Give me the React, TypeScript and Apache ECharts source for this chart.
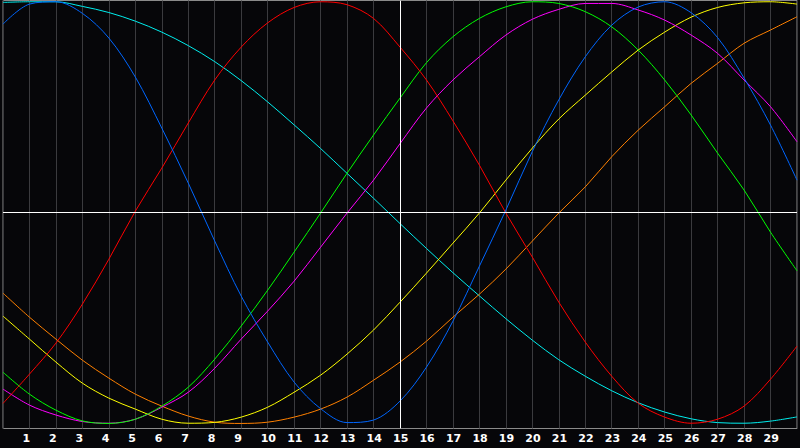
import React, { useEffect, useRef } from "react";
import * as echarts from "echarts";

// Days shown on the x axis (0..30) and tick labels
const days = [0, 1, 2, 3, 4, 5, 6, 7, 8, 9, 10, 11, 12, 13, 14, 15, 16, 17, 18, 19, 20, 21, 22, 23, 24, 25, 26, 27, 28, 29, 30];
const dayLabels = ["1", "2", "3", "4", "5", "6", "7", "8", "9", "10", "11", "12", "13", "14", "15", "16", "17", "18", "19", "20", "21", "22", "23", "24", "25", "26", "27", "28", "29"];

// Cycle values (percent), one per day
const physical = [89.4, 98.9, 100, 94.5, 82.8, 64.3, 40.1, 14.0, -13.5, -39.6, -61.4, -80.4, -93.0, -99.6, -98.4, -89.4, -73.3, -51.5, -25.4, 1.2, 29.0, 53.5, 73.9, 88.9, 97.5, 100, 94.8, 83.0, 63.8, 41.5, 15.4];
const emotional = [-90.5, -76.6, -61.9, -43.4, -22.1, 0.7, 21.1, 42.5, 62.9, 78.5, 90.0, 97.3, 100, 98.6, 92.1, 78.5, 62.9, 43.5, 22.5, -0.2, -21.1, -42.5, -61.4, -77.6, -90.4, -97.0, -99.9, -98.0, -91.8, -79.0, -63.3];
const intellectual = [-75.7, -86.1, -93.7, -98.8, -100, -98.0, -91.8, -82.8, -69.5, -53.8, -36.8, -18.7, -0.2, 18.7, 36.8, 54.3, 71.1, 83.4, 92.1, 97.6, 100, 99.2, 95.3, 88.1, 77.1, 62.9, 46.3, 28.2, 10.7, -9.3, -27.6];
const intuitive = [-83.7, -91.3, -96.0, -99.1, -99.9, -98.0, -92.3, -85.2, -73.8, -60.0, -46.7, -32.5, -16.4, -0.2, 15.4, 32.7, 49.6, 62.9, 73.9, 84.2, 91.7, 96.4, 99.2, 99.2, 96.1, 91.3, 84.2, 75.5, 62.9, 50.2, 33.6];
const aesthetic = [-49.1, -60.0, -70.9, -80.9, -88.0, -93.2, -98.0, -99.9, -99.5, -97.0, -92.3, -85.2, -77.1, -67.1, -55.7, -42.5, -28.7, -14.5, -0.2, 15.4, 30.6, 44.4, 55.7, 66.7, 77.1, 85.6, 92.7, 97.3, 99.5, 100, 98.9];
const awareness = [-38.2, -49.6, -60.0, -70.0, -78.5, -86.1, -91.8, -96.5, -99.4, -100, -99.4, -97.0, -93.2, -87.5, -79.5, -70.9, -61.0, -49.6, -38.7, -26.8, -13.5, -0.2, 12.2, 26.5, 39.1, 50.2, 61.3, 70.8, 80.3, 86.6, 92.9];
const spiritual = [99.7, 100, 100, 97.8, 94.9, 90.8, 85.6, 79.2, 71.6, 62.6, 52.5, 41.6, 30.4, 18.6, 6.8, -5.2, -17.0, -28.5, -39.5, -50.3, -60.5, -69.8, -77.6, -84.5, -90.2, -94.6, -97.8, -99.6, -99.9, -98.9, -96.9];

const seriesDefs = [
  { name: "Spiritual", values: spiritual, color: "#00eeee" },
  { name: "Awareness", values: awareness, color: "#ff8000" },
  { name: "Aesthetic", values: aesthetic, color: "#ffff00" },
  { name: "Intuitive", values: intuitive, color: "#ff00ff" },
  { name: "Intellectual", values: intellectual, color: "#00ff00" },
  { name: "Emotional", values: emotional, color: "#ff0000" },
  { name: "Physical", values: physical, color: "#0066ff" },
];

export default function App() {
  const ref = useRef<HTMLDivElement>(null);

  useEffect(() => {
    document.body.style.margin = "0";
    if (!ref.current) return;
    const chart = echarts.init(ref.current, undefined, { renderer: "svg" });

    const series: any[] = seriesDefs.map((s) => ({
      name: s.name,
      type: "line",
      data: days.map((d, i) => [d, s.values[i]]),
      showSymbol: false,
      smooth: 0.33,
      lineStyle: { color: s.color, width: 1 },
      itemStyle: { color: s.color },
      silent: true,
    }));

    series.push({
      name: "center",
      type: "line",
      data: [],
      silent: true,
      z: 1,
      markLine: {
        silent: true,
        symbol: "none",
        label: { show: false },
        lineStyle: { color: "#ffffff", width: 1, type: "solid" },
        data: [{ xAxis: 15 }, { yAxis: 0 }],
      },
    });

    chart.setOption({
      animation: false,
      backgroundColor: "#060609",
      grid: {
        show: true,
        left: 0.5,
        right: 0.5,
        top: 0.5,
        bottom: 19.5,
        borderColor: "#8a8a8a",
        borderWidth: 1,
        backgroundColor: "transparent",
      },
      xAxis: {
        type: "value",
        min: 0,
        max: 30,
        interval: 1,
        axisLine: { show: false },
        axisTick: { show: false },
        splitLine: { show: true, lineStyle: { color: "#3a3a3e", width: 1 } },
        axisLabel: {
          show: true,
          color: "#ffffff",
          fontWeight: "bold",
          fontSize: 11,
          fontFamily: "DejaVu Sans",
          align: "left",
          padding: [0, 0, 0, -7],
          margin: 4,
          formatter: (v: number) => (v >= 1 && v <= dayLabels.length ? dayLabels[v - 1] : ""),
        },
      },
      yAxis: {
        type: "value",
        min: -102.4,
        max: 100.6,
        show: false,
        splitLine: { show: false },
      },
      series,
    });

    return () => chart.dispose();
  }, []);

  return (
    <div
      ref={ref}
      style={{ position: "fixed", left: 0, top: 0, width: 800, height: 448, background: "#060609" }}
    />
  );
}
